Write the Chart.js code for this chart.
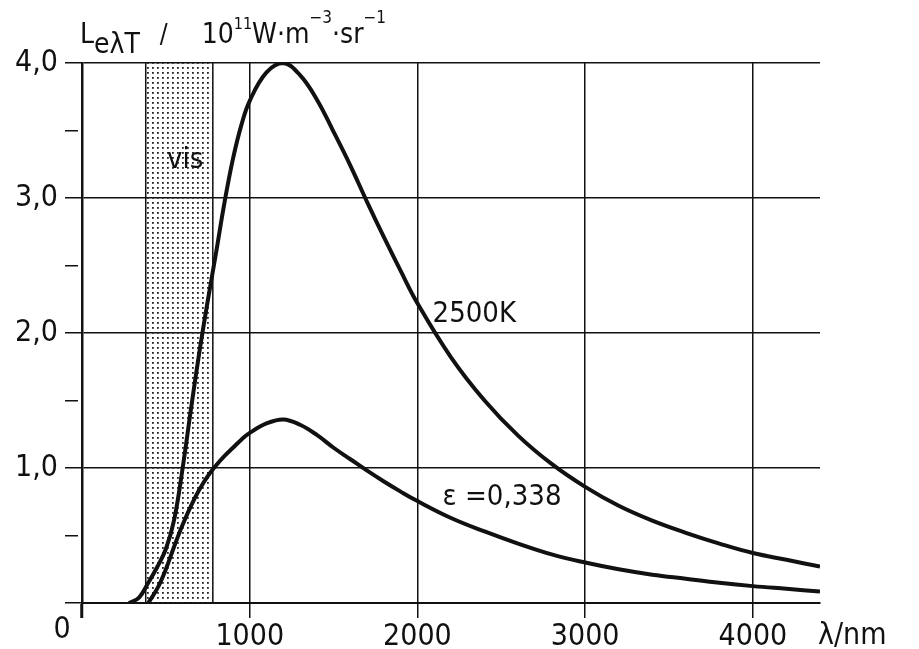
<!DOCTYPE html>
<html>
<head>
<meta charset="utf-8">
<script src="https://cdn.jsdelivr.net/npm/chart.js@4.4.1/dist/chart.umd.min.js"></script>
<style>
  html, body { margin: 0; padding: 0; background: #fff; }
  #wrap { width: 919px; height: 649px; position: relative; }
</style>
</head>
<body>
<div id="wrap"><canvas id="planckChart"></canvas></div>
<script>
// wavelength in nm
var wavelengths = [280, 340, 395, 450, 500, 550, 600, 650, 700, 750,
  800, 850, 900, 950, 1000, 1100, 1200, 1300, 1400, 1500,
  1600, 1700, 1800, 1900, 2000, 2200, 2400, 2600, 2800, 3000,
  3200, 3400, 3600, 3800, 4000, 4200, 4400];
// spectral radiance, 10^11 W m^-3 sr^-1
var blackBody2500K = [0, 0.04, 0.15, 0.27, 0.40, 0.62, 1.00, 1.44, 1.86, 2.24,
  2.60, 2.97, 3.29, 3.54, 3.72, 3.93, 4.00, 3.91, 3.73, 3.49,
  3.24, 2.97, 2.71, 2.46, 2.22, 1.82, 1.50, 1.24, 1.03, 0.86,
  0.72, 0.61, 0.52, 0.44, 0.37, 0.32, 0.27];
var greyBody0338 = [null, null, 0, 0.11, 0.25, 0.42, 0.58, 0.72, 0.84, 0.94,
  1.02, 1.09, 1.15, 1.21, 1.26, 1.33, 1.36, 1.32, 1.245, 1.15,
  1.065, 0.98, 0.90, 0.825, 0.755, 0.63, 0.53, 0.44, 0.36, 0.30,
  0.25, 0.21, 0.18, 0.15, 0.125, 0.105, 0.085];
var xTicks = [0, 1000, 2000, 3000, 4000];
var yTicks = [0, 0.5, 1, 1.5, 2, 2.5, 3, 3.5, 4];
var visRange = [380, 780];

var FONT = "'Liberation Sans Narrow', 'DejaVu Sans Condensed', 'Liberation Sans', sans-serif";
var INK = '#111';

function toPoints(ys) {
  return wavelengths.map(function(x, i) { return { x: x, y: ys[i] }; });
}

// dotted fill for the visible band
var dotCanvas = document.createElement('canvas');
dotCanvas.width = 5; dotCanvas.height = 5;
var dctx = dotCanvas.getContext('2d');
dctx.fillStyle = '#222';
dctx.fillRect(2, 2, 1.8, 1.8);

var decorPlugin = {
  id: 'decor',
  beforeDatasetsDraw: function(chart) {
    var ctx = chart.ctx, xs = chart.scales.x, ys = chart.scales.y;
    var x0 = xs.getPixelForValue(visRange[0]), x1 = xs.getPixelForValue(visRange[1]);
    var top = ys.getPixelForValue(4), bot = ys.getPixelForValue(0);
    ctx.save();
    ctx.fillStyle = ctx.createPattern(dotCanvas, 'repeat');
    ctx.fillRect(x0, top, x1 - x0, bot - top);
    ctx.strokeStyle = INK;
    ctx.lineWidth = 1.5;
    ctx.beginPath();
    ctx.moveTo(x0, top); ctx.lineTo(x0, bot);
    ctx.moveTo(x1, top); ctx.lineTo(x1, bot);
    ctx.stroke();
    ctx.restore();
  },
  afterDatasetsDraw: function(chart) {
    var ctx = chart.ctx, xs = chart.scales.x, ys = chart.scales.y;
    ctx.save();
    ctx.fillStyle = INK;
    ctx.textBaseline = 'middle';
    ctx.font = '29px ' + FONT;
    ctx.textAlign = 'center';
    ctx.fillText('vis', xs.getPixelForValue(615), ys.getPixelForValue(3.28));
    ctx.textAlign = 'left';
    ctx.fillText('2500K', xs.getPixelForValue(2090), ys.getPixelForValue(2.14));
    ctx.fillText('\u03b5 =0,338', xs.getPixelForValue(2150), ys.getPixelForValue(0.78));
    ctx.restore();
  },
  afterDraw: function(chart) {
    var ctx = chart.ctx;
    ctx.save();
    ctx.fillStyle = INK;
    ctx.textBaseline = 'alphabetic';
    ctx.textAlign = 'left';
    // axis titles
    var x = 80, base = 43;
    function put(t, size, dy) {
      ctx.font = size + 'px ' + FONT;
      ctx.fillText(t, x, base + dy);
      x += ctx.measureText(t).width;
    }
    put('L', 28, 0);
    put('e\u03bbT', 28, 10);
    x += 20; put('/', 26, 0);
    x += 34; put('10', 28, 0);
    put('11', 16, -14);
    put('W\u00b7m', 28, 0);
    put('\u22123', 17, -20);
    put('\u00b7sr', 28, 0);
    put('\u22121', 17, -20);

    ctx.font = '30px ' + FONT;
    ctx.textBaseline = 'middle';
    ctx.textAlign = 'center';
    ctx.fillText('0', 62, 630);
    ctx.textAlign = 'left';
    ctx.fillText('\u03bb/nm', 818, 636);
    ctx.restore();
  }
};

var ctx = document.getElementById('planckChart').getContext('2d');
var planckChart = new Chart(ctx, {
  type: 'line',
  data: {
    datasets: [{
      label: '2500K',
      data: toPoints(blackBody2500K),
      borderColor: INK,
      borderWidth: 4,
      pointRadius: 0,
      fill: false,
      tension: 0.4
    }, {
      label: '\u03b5 = 0,338',
      data: toPoints(greyBody0338),
      borderColor: INK,
      borderWidth: 4,
      pointRadius: 0,
      fill: false,
      tension: 0.4
    }]
  },
  options: {
    responsive: true,
    maintainAspectRatio: false,
    animation: false,
    layout: { padding: { top: 63, right: 99, left: 0, bottom: 0 } },
    plugins: {
      legend: { display: false },
      tooltip: { enabled: false }
    },
    scales: {
      x: {
        type: 'linear',
        min: 0,
        max: 4400,
        afterBuildTicks: function(scale) {
          scale.ticks = xTicks.map(function(v) { return { value: v }; });
        },
        afterFit: function(scale) { scale.height = 46; },
        border: { display: true, color: INK, width: 2 },
        grid: {
          color: INK,
          lineWidth: 1.5,
          tickLength: 15,
          tickColor: INK,
          tickWidth: function(c) { return c.tick && c.tick.value === 0 ? 3 : 1.5; }
        },
        ticks: {
          color: INK,
          padding: 4,
          maxRotation: 0,
          font: { family: FONT, size: 30, lineHeight: 1 },
          callback: function(v) { return v === 0 ? '' : String(v); }
        }
      },
      y: {
        min: 0,
        max: 4,
        afterBuildTicks: function(scale) {
          scale.ticks = yTicks.map(function(v) { return { value: v }; });
        },
        afterFit: function(scale) { scale.width = 82; },
        border: { display: true, color: INK, width: 2.5 },
        grid: {
          color: function(c) {
            return c.tick && Number.isInteger(c.tick.value) ? INK : 'rgba(0,0,0,0)';
          },
          lineWidth: 1.5,
          tickLength: 17,
          tickColor: INK,
          tickWidth: 1.5,
          tickBorderDash: function(c) {
            return c.tick && !Number.isInteger(c.tick.value) ? [13, 40] : [];
          }
        },
        ticks: {
          color: INK,
          padding: 7,
          font: { family: FONT, size: 30, lineHeight: 1 },
          callback: function(v) {
            return (Number.isInteger(v) && v !== 0) ? v.toFixed(1).replace('.', ',') : '';
          }
        }
      }
    }
  },
  plugins: [decorPlugin]
});
</script>
</body>
</html>
